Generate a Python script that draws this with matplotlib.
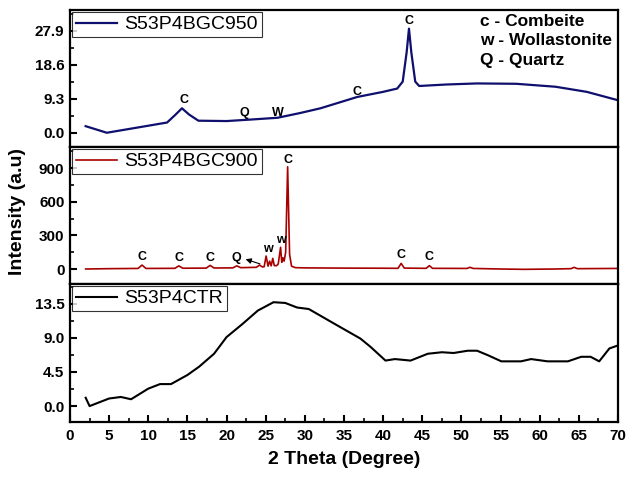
import matplotlib
matplotlib.use('Agg')
import matplotlib.pyplot as plt
from matplotlib.ticker import MultipleLocator, AutoMinorLocator

plt.rcParams['font.family'] = ['Liberation Sans', 'DejaVu Sans']

# S53P4BGC950
x950 = [2, 4.7, 8, 12.4, 13.5, 14.3, 15.2, 16.4, 20, 23, 26.5, 29.4, 32, 36.7, 40, 41.8,
        42.5, 43.0, 43.3, 43.6, 44.1, 44.6, 48, 52, 57, 62, 66, 70]
y950 = [1.8, 0.0, 1.2, 2.8, 5.0, 6.7, 5.0, 3.3, 3.2, 3.6, 4.1, 5.4, 6.7, 9.8, 11.2, 12.1,
        14.0, 22.0, 28.5, 22.0, 14.0, 12.8, 13.2, 13.5, 13.4, 12.6, 11.2, 8.9]

# S53P4BGC900
x900 = [2, 5, 8.7, 9.2, 9.7, 13.4, 13.9, 14.4, 17.4, 17.9, 18.4, 20.8, 21.3, 21.8,
        23.8, 24.2, 24.6, 24.8, 25.05, 25.3, 25.5, 25.7, 25.9, 26.1, 26.4, 26.6, 26.9,
        27.05, 27.2, 27.35, 27.55, 27.8, 28.05, 28.3, 28.8, 30, 35, 40, 41.9, 42.3, 42.7,
        45.5, 45.9, 46.3, 50.7, 51.1, 51.5, 55, 58, 62, 64.0, 64.4, 64.8, 70]
y900 = [0, 3, 5, 35, 5, 6, 28, 7, 8, 32, 9, 10, 28, 12,
        15, 35, 18, 20, 116, 25, 70, 28, 95, 30, 30, 45, 194,
        60, 100, 70, 150, 913, 130, 25, 12, 10, 8, 7, 6, 50, 8,
        6, 30, 6, 5, 15, 5, 0, -3, 0, 3, 15, 3, 5]

# S53P4CTR
xctr = [2, 2.5, 5, 6.5, 7.8, 10, 11.5, 12.9, 15, 16.5, 18.4, 20, 22, 24, 26, 27.5, 29,
        30.5, 33.7, 37.1, 38.4, 40.3, 41.5, 43.5, 45.7, 47.5, 49, 50.8, 52, 53.4, 55.1,
        57.6, 58.9, 61, 63.6, 65.3, 66.5, 67.6, 68.9, 70]
yctr = [1.1, 0.0, 1.0, 1.2, 0.9, 2.3, 2.9, 2.9, 4.1, 5.2, 6.9, 9.1, 10.8, 12.6, 13.7,
        13.6, 13.0, 12.8, 10.9, 8.9, 7.8, 6.0, 6.2, 6.0, 6.9, 7.1, 7.0, 7.3, 7.3, 6.7, 5.9,
        5.9, 6.2, 5.9, 5.9, 6.5, 6.5, 5.9, 7.6, 8.0]

# peak labels (x, y, text)
lab950 = [(14.5, 8.9, 'C'), (22.3, 5.4, 'Q'), (26.6, 5.4, 'W'), (36.7, 11.2, 'C'), (43.3, 30.6, 'C')]
lab900 = [(9.2, 110, 'C'), (13.9, 95, 'C'), (17.9, 100, 'C'), (21.3, 100, 'Q'),
          (25.3, 176, 'w'), (26.9, 259, 'w'), (27.8, 973, 'C'), (42.3, 125, 'C'), (45.8, 104, 'C')]

W, H = 626, 478
fig = plt.figure(figsize=(W / 100, H / 100), dpi=100)

left = 70 / W
width = 548 / W


def make_ax(top_px, bot_px):
    ax = fig.add_axes([left, 1 - bot_px / H, width, (bot_px - top_px) / H])
    for s in ax.spines.values():
        s.set_linewidth(1.6)
    ax.set_xlim(0, 70)
    ax.tick_params(axis='y', which='major', direction='in', length=5, width=1.5,
                   labelsize=11, pad=4)
    ax.tick_params(axis='y', which='minor', direction='in', length=3, width=1.2)
    return ax


ax1 = make_ax(10, 147)
ax2 = make_ax(147, 284)
ax3 = make_ax(284, 422)

ax1.plot(x950, y950, color='#0f0f6e', lw=1.6, label='S53P4BGC950')
ax1.set_ylim(-3.9, 33.6)
ax1.set_yticks([0.0, 9.3, 18.6, 27.9])
ax1.set_yticklabels(['0.0', '9.3', '18.6', '27.9'], fontweight='bold')

ax2.plot(x900, y900, color='#a80000', lw=1.2, label='S53P4BGC900')
ax2.set_ylim(-134, 1090)
ax2.set_yticks([0, 300, 600, 900])
ax2.set_yticklabels(['0', '300', '600', '900'], fontweight='bold')

ax3.plot(xctr, yctr, color='black', lw=1.5, label='S53P4CTR')
ax3.set_ylim(-2.1, 16.1)
ax3.set_yticks([0.0, 4.5, 9.0, 13.5])
ax3.set_yticklabels(['0.0', '4.5', '9.0', '13.5'], fontweight='bold')

for ax in (ax1, ax2, ax3):
    ax.yaxis.set_minor_locator(AutoMinorLocator(2))
    leg = ax.legend(loc='upper left', fontsize=14, frameon=True, fancybox=False,
                    borderaxespad=0.1, borderpad=0.2, handlelength=2.1,
                    handletextpad=0.4, edgecolor='black')
    leg.get_frame().set_linewidth(0.8)

for ax in (ax1, ax2):
    ax.tick_params(axis='x', which='both', bottom=False, labelbottom=False)

ax3.xaxis.set_major_locator(MultipleLocator(5))
ax3.xaxis.set_minor_locator(MultipleLocator(2.5))
ax3.tick_params(axis='x', which='major', direction='in', length=5, width=1.5,
                labelsize=11, pad=5)
ax3.tick_params(axis='x', which='minor', direction='in', length=3, width=1.2)
for lab in ax3.get_xticklabels():
    lab.set_fontweight('bold')

for x, y, t in lab950:
    ax1.text(x, y, t, ha='center', va='center', fontsize=9, fontweight='bold')
for x, y, t in lab900:
    ax2.text(x, y, t, ha='center', va='center', fontsize=9, fontweight='bold')

ax2.annotate('', xy=(22.1, 95), xytext=(24.6, 38),
             arrowprops=dict(arrowstyle='-|>', color='black', lw=0.8, mutation_scale=8))

ax1.text(0.748, 0.97, 'c - Combeite\nw - Wollastonite\nQ - Quartz', transform=ax1.transAxes,
         ha='left', va='top', fontsize=12.5, fontweight='bold', linespacing=1.35)

ax3.set_xlabel('2 Theta (Degree)', fontsize=14, fontweight='bold', labelpad=6)
fig.text(18 / W, 1 - 212 / H, 'Intensity (a.u)', rotation=90, ha='center', va='center',
         fontsize=14, fontweight='bold')

fig.savefig('out.png', dpi=100)
